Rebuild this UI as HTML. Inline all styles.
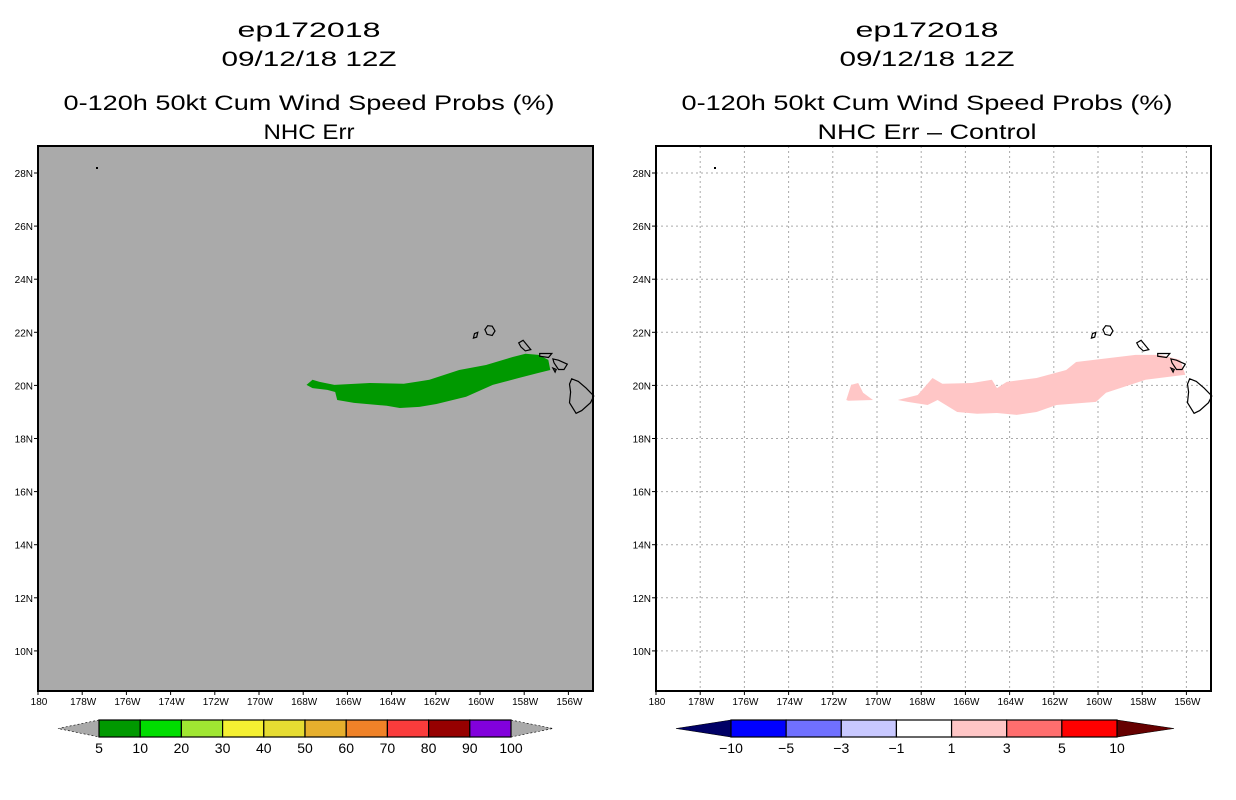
<!DOCTYPE html>
<html><head><meta charset="utf-8"><style>
html,body{margin:0;padding:0;background:#fff}
svg{display:block}
text{font-family:"Liberation Sans",sans-serif;fill:#000}
</style></head><body>
<svg id="chart" width="1236" height="800" viewBox="0 0 1236 800" xmlns="http://www.w3.org/2000/svg">
<g id="left"></g>
<g id="right"></g>
</svg>
<script>
const lonTicks=["180","178W","176W","174W","172W","170W","168W","166W","164W","162W","160W","158W","156W"];
const latTicks=["10N","12N","14N","16N","18N","20N","22N","24N","26N","28N"];
const leftLevels=["5","10","20","30","40","50","60","70","80","90","100"];
const leftColors=["#009900","#00dd00","#a0e632","#f5f032","#e6dc32","#e6af2d","#f08228","#fa3c3c","#960000","#8200dc"];
const rightLevels=["-10","-5","-3","-1","1","3","5","10"];
const rightColors=["#0000ff","#7070ff","#c8c8ff","#ffffff","#ffc6c6","#ff6e6e","#ff0000"];
const greenLon=[-167.85,-167.58,-167.26,-166.59,-164.98,-163.45,-162.29,-160.94,-159.73,-158.52,-157.94,-157.35,-156.91,-156.82,-157.35,-158.25,-159.42,-160.63,-161.97,-162.74,-163.63,-164.22,-165.70,-166.46,-166.55,-166.91,-167.58];
const greenLat=[20.02,20.21,20.13,20.02,20.09,20.06,20.21,20.58,20.77,21.07,21.19,21.15,20.96,20.58,20.47,20.28,20.02,19.57,19.30,19.19,19.15,19.23,19.34,19.45,19.75,19.83,19.90];
const pinkSmallLon=[-171.39,-171.17,-170.85,-170.63,-170.18,-171.30];
const pinkSmallLat=[19.45,20.02,20.09,19.72,19.45,19.42];
const pinkLon=[-169.06,-168.16,-167.49,-167.04,-165.70,-164.80,-164.57,-164.13,-162.78,-161.44,-160.99,-158.30,-157.17,-156.28,-156.05,-157.85,-159.64,-160.09,-161.88,-162.78,-163.68,-164.57,-165.47,-166.37,-167.26,-167.71,-168.61];
const pinkLat=[19.45,19.64,20.28,20.06,20.09,20.21,19.90,20.13,20.28,20.58,20.88,21.15,21.15,20.96,20.40,20.21,19.72,19.38,19.26,19.00,18.89,18.96,18.93,19.00,19.45,19.26,19.38];
const islands=[
 [[-159.65,22.25],[-159.45,22.23],[-159.32,22.05],[-159.45,21.88],[-159.68,21.92],[-159.78,22.1]],
 [[-160.25,21.95],[-160.1,22.0],[-160.15,21.82],[-160.3,21.78]],
 [[-158.25,21.6],[-158.05,21.7],[-157.85,21.5],[-157.7,21.35],[-157.95,21.3],[-158.15,21.45]],
 [[-157.3,21.2],[-156.75,21.2],[-156.9,21.05],[-157.3,21.1]],
 [[-156.7,21.0],[-156.45,20.95],[-156.05,20.8],[-156.2,20.6],[-156.45,20.6],[-156.65,20.85]],
 [[-156.7,20.65],[-156.55,20.6],[-156.6,20.5]],
 [[-155.85,20.25],[-155.55,20.15],[-155.2,19.9],[-154.85,19.6],[-155.0,19.35],[-155.4,19.05],[-155.65,18.95],[-155.95,19.35],[-155.9,19.75],[-155.95,20.05]]
];
const X0=38,Y0=146,W=555,H=545,PXD=22.1,PYD=26.55;
const NS='http://www.w3.org/2000/svg';
function mk(p,tag,at){const e=document.createElementNS(NS,tag);for(const k in at)e.setAttribute(k,at[k]);p.appendChild(e);return e;}
function xs(ox,lon){return ox+X0+(lon+180)*PXD;}
function ys(lat){return 173+(28-lat)*PYD;}
function pts(ox,lons,lats){return lons.map((l,i)=>xs(ox,l).toFixed(1)+','+ys(lats[i]).toFixed(1)).join(' ');}
function txt(p,x,y,s,size,anchor,len,name){const t=mk(p,'text',{x:x,y:y,'font-size':size,'text-anchor':anchor});if(len){t.setAttribute('textLength',len);t.setAttribute('lengthAdjust','spacingAndGlyphs');}t.textContent=s;
 
 
 return t;}
function panel(g,ox,isLeft){
 const cx=ox+309;
 txt(g,cx,37,'ep172018',21,'middle',143,'case-title');
 txt(g,cx,66,'09/12/18 12Z',21,'middle',175,'date-title');
 txt(g,cx,110,'0-120h 50kt Cum Wind Speed Probs (%)',21,'middle',491,'main-title');
 txt(g,cx,139,isLeft?'NHC Err':'NHC Err \u2013 Control',21,'middle',isLeft?91:219,'sub-title');
 const bg=mk(g,'rect',{x:ox+X0,y:Y0,width:W,height:H,fill:isLeft?'#aaaaaa':'#ffffff'});
 
 
 if(!isLeft){
  for(let i=1;i<lonTicks.length;i++){const x=ox+X0+i*2*PXD;const l=mk(g,'line',{x1:x,y1:Y0,x2:x,y2:Y0+H,stroke:'#aaaaaa','stroke-width':1,'stroke-dasharray':'2,3'});
   
   }
  latTicks.forEach((s,i)=>{const y=ys(10+2*i);const l=mk(g,'line',{x1:ox+X0,y1:y,x2:ox+X0+W,y2:y,stroke:'#aaaaaa','stroke-width':1,'stroke-dasharray':'2,3'});
   
   });
 }
 if(isLeft){
  const p=mk(g,'polygon',{points:pts(ox,greenLon,greenLat),fill:'#009900'});
  
  
 }else{
  const p=mk(g,'polygon',{points:pts(ox,pinkLon,pinkLat),fill:'#ffc6c6'});
  
  
  const q=mk(g,'polygon',{points:pts(ox,pinkSmallLon,pinkSmallLat),fill:'#ffc6c6'});
  
  
 }
 islands.forEach(isl=>{const p=mk(g,'polygon',{points:pts(ox,isl.map(a=>a[0]),isl.map(a=>a[1])),fill:'none',stroke:'#000','stroke-width':1.2});
  
  });
 const dot=mk(g,'rect',{x:ox+96,y:167,width:2,height:2,fill:'#000'});
 
 
 const fr=mk(g,'rect',{x:ox+X0,y:Y0,width:W,height:H,fill:'none',stroke:'#000','stroke-width':2});
 
 
 lonTicks.forEach((s,i)=>{const x=ox+X0+i*2*PXD;mk(g,'line',{x1:x,y1:Y0+H,x2:x,y2:Y0+H+4,stroke:'#000'});txt(g,x+1,705,s,10,'middle',null,'lon-tick-label');});
 latTicks.forEach((s,i)=>{const y=ys(10+2*i);mk(g,'line',{x1:ox+X0-4,y1:y,x2:ox+X0,y2:y,stroke:'#000'});txt(g,ox+33,y+4,s,10,'end',null,'lat-tick-label');});
 // colorbar
 const cb=mk(g,'g',{});
 
 
 const y1=720,y2=737,ym=728.5;
 let levels,colors,x0,x1,tl,tr,lc,rc;
 if(isLeft){levels=leftLevels;colors=leftColors;x0=99;x1=511;tl=58;tr=553;lc='#aaaaaa';rc='#aaaaaa';}
 else{levels=rightLevels;colors=rightColors;x0=731;x1=1117;tl=676;tr=1174;lc='#000066';rc='#660000';}
 const n=colors.length,bw=(x1-x0)/n;
 mk(cb,'polygon',{points:`${x0},${y1} ${tl},${ym} ${x0},${y2}`,fill:lc,stroke:'#000','stroke-width':0.6,'stroke-dasharray':isLeft?'2,2':''});
 mk(cb,'polygon',{points:`${x1},${y1} ${tr},${ym} ${x1},${y2}`,fill:rc,stroke:'#000','stroke-width':0.6,'stroke-dasharray':isLeft?'2,2':''});
 colors.forEach((c,i)=>{const r=mk(cb,'rect',{x:x0+i*bw,y:y1,width:bw,height:y2-y1,fill:c,stroke:'#000','stroke-width':1.2});
  
  });
 levels.forEach((s,i)=>{txt(cb,x0+i*bw,753,s.replace('-','\u2212'),14,'middle',null,'colorbar-label');});
}
panel(document.getElementById('left'),0,true);
panel(document.getElementById('right'),618,false);
</script>
</body></html>
